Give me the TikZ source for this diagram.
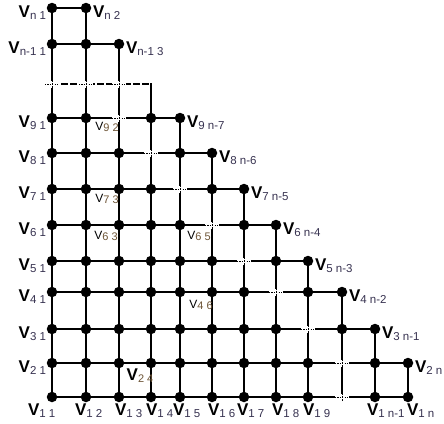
\documentclass[tikz,border=0pt]{standalone}
\usepackage{fontspec}
\setmainfont{Liberation Sans}
\definecolor{subc}{RGB}{55,50,80}
\definecolor{innc}{RGB}{110,85,55}
\newcommand\Vlab[1]{{\fontsize{17}{17}\selectfont\bfseries V}\raisebox{-2pt}{\fontsize{11.5}{11.5}\selectfont\color{subc}#1}}
\newcommand\vlab[1]{{\fontsize{12}{12}\selectfont V}\raisebox{-1pt}{\fontsize{11}{11}\selectfont\color{innc}#1}}
\newcommand\VBlab[1]{{\fontsize{17}{17}\selectfont\bfseries V}\raisebox{-2pt}{\fontsize{11}{11}\selectfont\color{innc}#1}}
\begin{document}
\begin{tikzpicture}[x=1pt,y=-1pt,
  dot/.style={circle,fill=black,inner sep=0pt,minimum size=10.5pt},
  gridline/.style={line width=2.5pt,line cap=rect},
  gapline/.style={line width=2.3pt,dash pattern=on 7pt off 2pt},
  tick/.style={line width=0.9pt,dash pattern=on 1.2pt off 1.2pt},
  lab/.style={inner sep=0pt,outer sep=0pt}]
\useasboundingbox (0,0) rectangle (444,423);
\fill[white] (0,0) rectangle (444,423);
% grid points: row/y/length/gap column
\foreach \r/\y/\L/\g in {1/397/12/10,2/363/12/10,3/329/11/9,4/292/10/8,5/261/9/7,6/225/8/6,7/189/7/5,8/153/6/4,9/118/5/3,10/84/4/0,11/44/3/-1,12/8/2/-1}{
  \foreach \c/\x in {1/52,2/86,3/119,4/151,5/180,6/212,7/244,8/276,9/308,10/342,11/375,12/408}{
    \ifnum\c>\L\relax\else
      \pgfmathtruncatemacro\isgap{or(\c==\g,\r==10)}
      \ifnum\isgap=1
        \coordinate (n-\r-\c) at (\x,\y);
      \else
        \node[dot] (n-\r-\c) at (\x,\y) {};
      \fi
    \fi
  }
}
% horizontal lines
\foreach \r/\L in {1/12,2/12,3/11,4/10,5/9,6/8,7/7,8/6,9/5,11/3,12/2}
  \draw[gridline] (n-\r-1) -- (n-\r-\L);
\draw[gapline] (n-10-1) -- (n-10-4);
% vertical lines
\foreach \c/\t in {1/12,2/12,3/11,4/10,5/9,6/8,7/7,8/6,9/5,10/4,11/3,12/2}
  \draw[gridline] (n-1-\c) -- (n-\t-\c);
% gap crossings
\foreach \r/\c in {1/10,2/10,3/9,4/8,5/7,6/6,7/5,8/4,9/3,10/1,10/2,10/3}{
  \fill[white] ([xshift=-7pt,yshift=-3.5pt]n-\r-\c) rectangle ([xshift=7pt,yshift=3.5pt]n-\r-\c);
  \draw[tick] ([xshift=-7pt]n-\r-\c) -- ([xshift=7pt]n-\r-\c);
  \draw[line width=0.9pt,dash pattern=on 2pt off 1pt] ([yshift=-4pt]n-\r-\c) -- ([yshift=4pt]n-\r-\c);
}
% left labels
\foreach \r/\t in {2/2 1,3/3 1,4/4 1,5/5 1,6/6 1,7/7 1,8/8 1,9/9 1,11/n-1 1,12/n 1}
  \node[lab,anchor=base east,xshift=-6pt,yshift=-9pt] (ll-\r) at (n-\r-1) {\Vlab{\t}};
% right labels
\foreach \r/\L/\t in {2/12/2 n,3/11/3 n-1,4/10/4 n-2,5/9/5 n-3,6/8/6 n-4,7/7/7 n-5,8/6/8 n-6,9/5/9 n-7,11/3/n-1 3,12/2/n 2}
  \node[lab,anchor=base west,xshift=7pt,yshift=-9pt] (rl-\r) at (n-\r-\L) {\Vlab{\t}};
% bottom labels
\foreach \c/\dx/\t in {1/-24/1 1,2/-11/1 2,3/-4/1 3,4/-5/1 4,5/-7/1 5,6/-4/1 6,7/-7/1 7,8/-4/1 8,9/-5/1 9,11/-8/1 n-1,12/-1/1 n}
  \node[lab,anchor=base west,xshift=\dx pt,yshift=-18pt] (bl-\c) at (n-1-\c) {\Vlab{\t}};
% inner labels
\node[lab] (i92) at (107,127) {\vlab{9 2}};
\node[lab] (i73) at (107,199) {\vlab{7 3}};
\node[lab] (i63) at (106,236) {\vlab{6 3}};
\node[lab] (i65) at (199,236) {\vlab{6 5}};
\node[lab] (i46) at (201,305) {\vlab{4 6}};
\node[lab] (i24) at (140,376) {\VBlab{2 4}};
\end{tikzpicture}
\end{document}
